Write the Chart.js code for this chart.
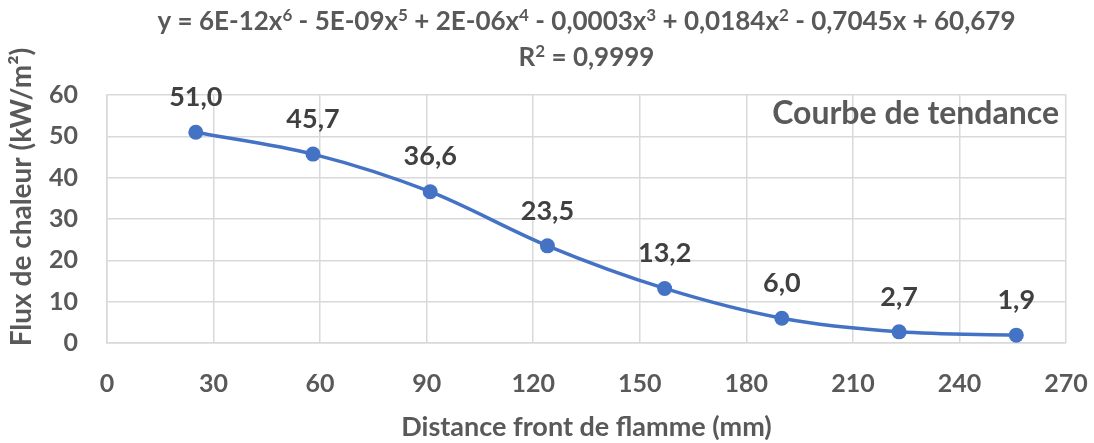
<!DOCTYPE html>
<html>
<head>
<meta charset="utf-8">
<script src="https://cdn.jsdelivr.net/npm/chart.js"></script>
<style>
body { margin: 0; background: #fff; overflow: hidden; }
</style>
</head>
<body>
<canvas id="myChart" width="1094" height="443"></canvas>
<script>
// donnees
const distances = [25, 58, 91, 124, 157, 190, 223, 256];
const flux = [51.0, 45.7, 36.6, 23.5, 13.2, 6.0, 2.7, 1.9];

const xLabel = 'Distance front de flamme (mm)';
const yLabel = 'Flux de chaleur (kW/m²)';
const noteText = 'Courbe de tendance';
// [texte, exposant ?]
const eqLine1 = [['y = 6E-12x', 0], ['6', 1], [' - 5E-09x', 0], ['5', 1], [' + 2E-06x', 0], ['4', 1],
  [' - 0,0003x', 0], ['3', 1], [' + 0,0184x', 0], ['2', 1], [' - 0,7045x + 60,679', 0]];
const eqLine2 = [['R', 0], ['2', 1], [' = 0,9999', 0]];

const grey = '#595959';
const blue = '#4472C4';
const gridColor = '#d9d9d9';

Chart.defaults.font.family = 'Lato';

function drawRich(ctx, parts, cx, baseY){
  const big = 'bold 26px Lato';
  const small = 'bold 17px Lato';
  let total = 0;
  parts.forEach(p => {
    ctx.font = p[1] ? small : big;
    total += ctx.measureText(p[0]).width;
  });
  let x = cx - total / 2;
  ctx.textAlign = 'left';
  ctx.textBaseline = 'alphabetic';
  parts.forEach(p => {
    ctx.font = p[1] ? small : big;
    ctx.fillText(p[0], x, p[1] ? baseY - 9 : baseY);
    x += ctx.measureText(p[0]).width;
  });
}

const textPlugin = {
  id: 'texts',
  afterDatasetsDraw(chart){
    const ctx = chart.ctx;
    const meta = chart.getDatasetMeta(0);
    ctx.save();
    ctx.font = 'bold 27px Lato';
    ctx.fillStyle = '#404040';
    ctx.textAlign = 'center';
    ctx.textBaseline = 'middle';
    meta.data.forEach((pt, i) => {
      ctx.fillText(flux[i].toFixed(1).replace('.', ','), pt.x, pt.y - 35);
    });
    ctx.restore();
  },
  afterDraw(chart){
    const ctx = chart.ctx;
    const area = chart.chartArea;
    ctx.save();
    ctx.fillStyle = grey;
    ctx.font = 'bold 32px Lato';
    ctx.textAlign = 'right';
    ctx.textBaseline = 'alphabetic';
    ctx.fillText(noteText, area.right - 7, 124);
    const cx = (area.left + area.right) / 2;
    drawRich(ctx, eqLine1, cx, 30);
    drawRich(ctx, eqLine2, cx, 66);
    // titre de l'axe y
    ctx.translate(22, 197);
    ctx.rotate(-Math.PI / 2);
    ctx.font = 'bold 28px Lato';
    ctx.textAlign = 'center';
    ctx.textBaseline = 'middle';
    ctx.fillText(yLabel, 0, 0);
    ctx.restore();
  }
};

const ctx = document.getElementById('myChart');
new Chart(ctx, {
  type: 'scatter',
  data: {
    datasets: [{
      data: distances.map((d, i) => ({x: d, y: flux[i]})),
      showLine: true,
      borderColor: blue,
      backgroundColor: blue,
      borderWidth: 3.5,
      cubicInterpolationMode: 'monotone',
      pointRadius: 7.5,
      pointBorderWidth: 0,
      pointHoverRadius: 7.5
    }]
  },
  options: {
    responsive: false,
    animation: false,
    layout: { padding: { top: 95, right: 28, left: 0, bottom: 0 } },
    plugins: {
      legend: { display: false },
      tooltip: { enabled: false }
    },
    scales: {
      x: {
        type: 'linear',
        min: 0,
        max: 270,
        afterFit: s => { s.height = 100; s.paddingRight = 0; s.paddingLeft = 0; },
        ticks: { stepSize: 30, color: grey, font: { size: 25, weight: 'bold' }, padding: 26 },
        grid: { color: gridColor, lineWidth: 1.5, drawTicks: false },
        border: { color: gridColor, width: 1.5 },
        title: { display: true, text: xLabel, color: grey, font: { size: 27, weight: 'bold' }, padding: { top: 0, bottom: 0 } }
      },
      y: {
        min: 0,
        max: 60,
        afterFit: s => { s.width = 107; s.paddingTop = 0; s.paddingBottom = 0; },
        ticks: { stepSize: 10, color: grey, font: { size: 25, weight: 'bold' }, padding: 29 },
        grid: { color: gridColor, lineWidth: 1.5, drawTicks: false },
        border: { color: gridColor, width: 1.5 }
      }
    }
  },
  plugins: [textPlugin]
});
</script>
</body>
</html>
